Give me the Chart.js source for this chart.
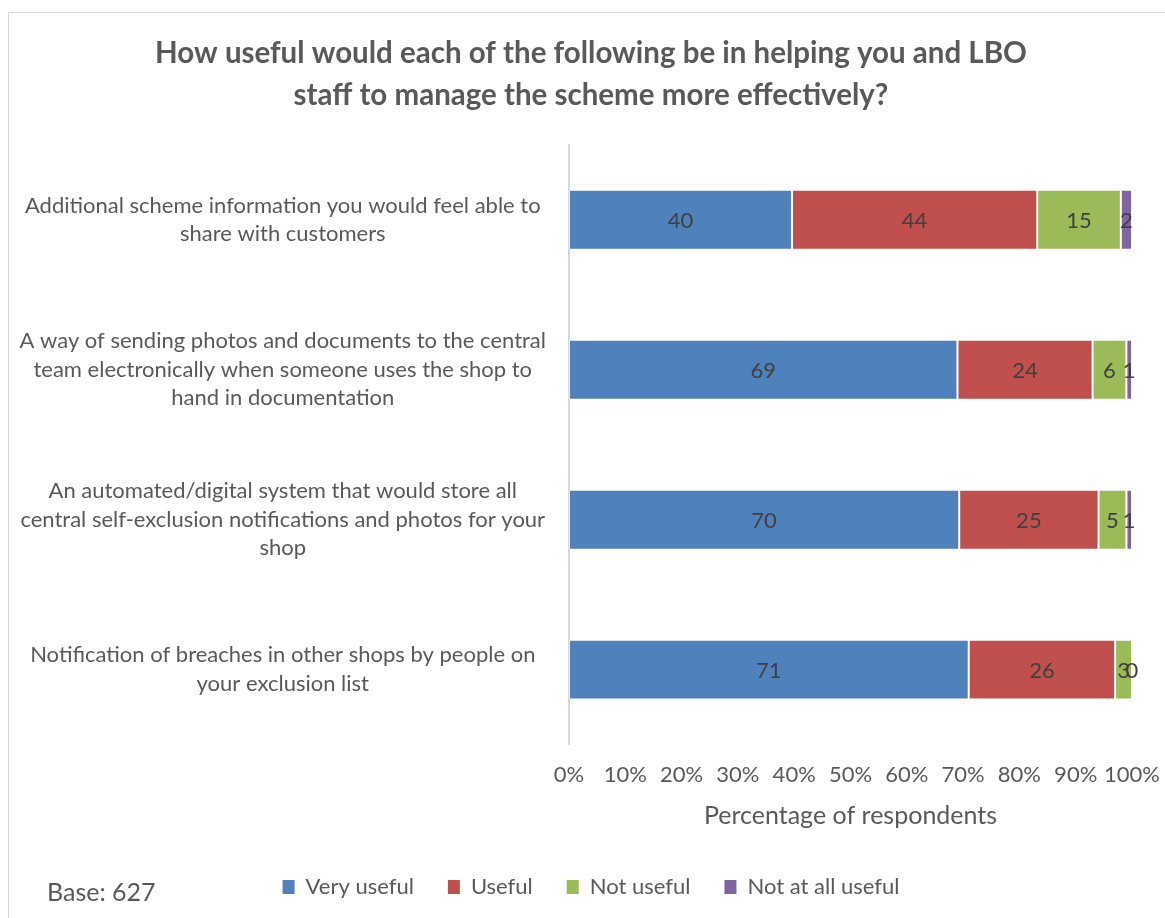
<!DOCTYPE html>
<html>
<head>
<meta charset="utf-8">
<script src="https://cdn.jsdelivr.net/npm/chart.js@4.4.0/dist/chart.umd.min.js"></script>
<style>
	html, body { margin: 0; padding: 0; background: #fff; }
	#wrap { position: relative; width: 1165px; height: 918px; overflow: hidden; }
	#frame { position: absolute; left: 8px; top: 12px; width: 1200px; height: 950px; border: 1px solid #d9d9d9; box-sizing: border-box; }
	canvas { position: absolute; left: 0; top: 0; }
</style>
</head>
<body>
<div id="wrap">
	<div id="frame"></div>
	<canvas id="graph" width="1165" height="918"></canvas>
</div>
<script>
const categories = [
	["Additional scheme information you would feel able to", "share with customers"],
	["A way of sending photos and documents to the central", "team electronically when someone uses the shop to", "hand in documentation"],
	["An automated/digital system that would store all", "central self-exclusion notifications and photos for your", "shop"],
	["Notification of breaches in other shops by people on", "your exclusion list"]
];
const seriesNames = ["Very useful", "Useful", "Not useful", "Not at all useful"];
const veryUseful = [40, 69, 70, 71];
const useful = [44, 24, 25, 26];
const notUseful = [15, 6, 5, 3];
const notAtAllUseful = [2, 1, 1, 0];
const colors = ["#4F81BD", "#C0504D", "#9BBB59", "#8064A2"];
const xTicks = [0, 10, 20, 30, 40, 50, 60, 70, 80, 90, 100];

const FONT = "Lato, 'Open Sans', sans-serif";
const raw = [veryUseful, useful, notUseful, notAtAllUseful];
const LEFT_PAD = 50;

// 100% stacked: each row scaled by its total
const totals = categories.map((c, i) => raw.reduce((s, arr) => s + arr[i], 0));
const datasets = raw.map((arr, k) => ({
	label: seriesNames[k],
	data: arr.map((v, i) => v / totals[i] * 100),
	rawValues: arr,
	backgroundColor: colors[k],
	borderColor: "rgba(255,255,255,0.45)",
	borderWidth: 1,
	borderSkipped: false,
	categoryPercentage: 1,
	barPercentage: 0.4
}));

// draws the raw value in the middle of each segment
const valueLabels = {
	id: "valueLabels",
	afterDatasetsDraw(chart) {
		const ctx = chart.ctx;
		ctx.save();
		ctx.font = "22px " + FONT;
		ctx.fillStyle = "#404040";
		ctx.textAlign = "center";
		ctx.textBaseline = "middle";
		chart.data.datasets.forEach((ds, k) => {
			const meta = chart.getDatasetMeta(k);
			meta.data.forEach((bar, i) => {
				const p = bar.getCenterPoint();
				ctx.fillText(String(ds.rawValues[i]), p.x, p.y + 1);
			});
		});
		ctx.restore();
	}
};

const baseNote = {
	id: "baseNote",
	// let the long category labels run past the left padding without being clipped
	afterLayout(chart) {
		chart.scales.y.left = 0;
	},
	afterDraw(chart) {
		const ctx = chart.ctx;
		ctx.save();
		ctx.font = "25px " + FONT;
		ctx.fillStyle = "#595959";
		ctx.textAlign = "left";
		ctx.textBaseline = "middle";
		ctx.fillText("Base: 627", 47, 893);
		ctx.restore();
	}
};

new Chart(document.getElementById("graph"), {
	type: "bar",
	data: { labels: categories, datasets: datasets },
	plugins: [valueLabels, baseNote],
	options: {
		indexAxis: "y",
		responsive: false,
		animation: false,
		layout: { padding: { left: LEFT_PAD, right: 33, top: 33, bottom: 10 } },
		plugins: {
			title: {
				display: true,
				text: ["How useful would each of the following be in helping you and LBO", "staff to manage the scheme more effectively?"],
				color: "#595959",
				font: { family: FONT, size: 29.5, weight: "bold", lineHeight: 1.42 },
				padding: { top: 0, bottom: 28 }
			},
			legend: {
				position: "bottom",
				labels: {
					color: "#595959",
					font: { family: FONT, size: 22 },
					boxWidth: 12,
					boxHeight: 14,
					padding: 34,
					generateLabels(chart) {
						return chart.data.datasets.map((ds, k) => ({
							text: ds.label,
							fillStyle: colors[k],
							strokeStyle: colors[k],
							lineWidth: 0,
							datasetIndex: k,
							fontColor: "#595959"
						}));
					}
				}
			},
			tooltip: { enabled: false }
		},
		scales: {
			x: {
				stacked: true,
				min: 0,
				max: 100,
				afterBuildTicks(scale) {
					scale.ticks = xTicks.map(v => ({ value: v }));
				},
				// the 100% label may hang into the right padding
				afterFit(scale) {
					scale.paddingLeft = 0;
					scale.paddingRight = 0;
				},
				grid: { display: false },
				border: { display: false },
				ticks: {
					color: "#595959",
					font: { family: FONT, size: 22 },
					padding: 9,
					autoSkip: false,
					maxRotation: 0,
					callback: v => v + "%"
				},
				title: {
					display: true,
					text: "Percentage of respondents",
					color: "#595959",
					font: { family: FONT, size: 25, lineHeight: 1.0 },
					padding: { top: 6, bottom: 14 }
				}
			},
			y: {
				stacked: true,
				grid: { display: false, drawTicks: false },
				border: { display: true, color: "#d9d9d9", width: 2 },
				afterFit(scale) { scale.width = 569 - LEFT_PAD; },
				ticks: {
					color: "#595959",
					font: { family: FONT, size: 22, lineHeight: 1.3 },
					crossAlign: "center",
					padding: 23
				}
			}
		}
	}
});
</script>
</body>
</html>
